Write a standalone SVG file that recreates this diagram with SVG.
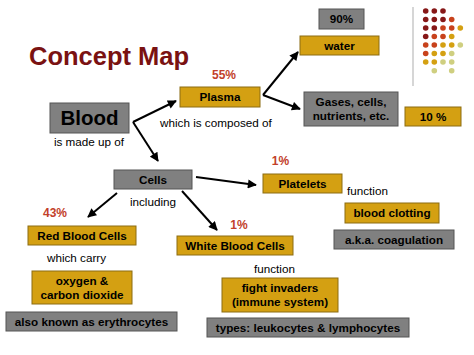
<svg xmlns="http://www.w3.org/2000/svg" width="474" height="355" viewBox="0 0 474 355">
<defs>
<marker id="ah" viewBox="0 0 10 10" refX="9" refY="5" markerWidth="5" markerHeight="4.5" orient="auto" markerUnits="strokeWidth">
<path d="M0,0 L10,5 L0,10 z" fill="#000"/>
</marker>
<style>
.g{fill:#d4a012;stroke:#8c6c12;stroke-width:1}
.k{fill:#808080;stroke:#555;stroke-width:1}
.bt{font-family:"Liberation Sans",Arial,sans-serif;font-weight:bold;font-size:11.7px;fill:#000;text-anchor:middle}
.lb{font-family:"Liberation Sans",Arial,sans-serif;font-size:11.7px;fill:#000}
.pc{font-family:"Liberation Sans",Arial,sans-serif;font-weight:bold;font-size:12px;fill:#c2402a;text-anchor:middle}
.c{stroke:#000;stroke-width:2;fill:none;stroke-linejoin:miter}
.d1{fill:#861717}.d2{fill:#c8421c}.d3{fill:#d4a012}.d4{fill:#cfcf80}
</style>
</defs>
<rect width="474" height="355" fill="#fff"/>
<text x="29" y="65" font-family="Liberation Sans,Arial,sans-serif" font-weight="bold" font-size="25.5" fill="#7a1212">Concept Map</text>
<g id="decor">
<line x1="413" y1="7" x2="413" y2="86" stroke="#bbb" stroke-width="1.2"/>
<g>
<circle class="d1" cx="425.7" cy="11" r="2.8"/><circle class="d1" cx="434.3" cy="11" r="2.8"/><circle class="d1" cx="443" cy="11" r="2.8"/>
<circle class="d1" cx="425.7" cy="19.5" r="2.8"/><circle class="d1" cx="434.3" cy="19.5" r="2.8"/><circle class="d1" cx="443" cy="19.5" r="2.8"/><circle class="d2" cx="451.7" cy="19.5" r="2.8"/>
<circle class="d1" cx="425.7" cy="28" r="2.8"/><circle class="d1" cx="434.3" cy="28" r="2.8"/><circle class="d2" cx="443" cy="28" r="2.8"/><circle class="d2" cx="451.7" cy="28" r="2.8"/><circle class="d3" cx="460.3" cy="28" r="2.8"/>
<circle class="d1" cx="425.7" cy="36.5" r="2.8"/><circle class="d2" cx="434.3" cy="36.5" r="2.8"/><circle class="d2" cx="443" cy="36.5" r="2.8"/><circle class="d3" cx="451.7" cy="36.5" r="2.8"/>
<circle class="d2" cx="425.7" cy="45" r="2.8"/><circle class="d2" cx="434.3" cy="45" r="2.8"/><circle class="d3" cx="443" cy="45" r="2.8"/><circle class="d3" cx="451.7" cy="45" r="2.8"/><circle class="d4" cx="460.3" cy="45" r="2.8"/>
<circle class="d2" cx="425.7" cy="53.5" r="2.8"/><circle class="d3" cx="434.3" cy="53.5" r="2.8"/><circle class="d3" cx="443" cy="53.5" r="2.8"/><circle class="d4" cx="451.7" cy="53.5" r="2.8"/>
<circle class="d3" cx="425.7" cy="62" r="2.8"/><circle class="d3" cx="434.3" cy="62" r="2.8"/><circle class="d4" cx="443" cy="62" r="2.8"/><circle class="d4" cx="451.7" cy="62" r="2.8"/>
<circle class="d4" cx="434.3" cy="70.7" r="2.8"/><circle class="d4" cx="451.7" cy="70.7" r="2.8"/>
</g>
</g>
<g id="connectors">
<line class="c" x1="133" y1="122" x2="176" y2="101" marker-end="url(#ah)"/>
<line class="c" x1="133" y1="122" x2="158" y2="161" marker-end="url(#ah)"/>
<line class="c" x1="263" y1="95" x2="298" y2="52" marker-end="url(#ah)"/>
<line class="c" x1="263" y1="95" x2="300" y2="109" marker-end="url(#ah)"/>
<line class="c" x1="196" y1="177" x2="256" y2="185" marker-end="url(#ah)"/>
<line class="c" x1="182" y1="191" x2="217" y2="230" marker-end="url(#ah)"/>
<line class="c" x1="117" y1="193" x2="88" y2="217" marker-end="url(#ah)"/>
</g>
<g id="blood"><rect class="k" x="50" y="103" width="79" height="30"/><text class="bt" x="89.5" y="125.3" style="font-size:20.5px">Blood</text></g>
<text id="lbl-madeup" class="lb" x="89" y="146" text-anchor="middle">is made up of</text>
<g id="plasma"><text class="pc" x="224" y="79">55%</text><rect class="g" x="180" y="87" width="80" height="20"/><text class="bt" x="220" y="101.2">Plasma</text></g>
<text id="lbl-composed" class="lb" x="160" y="127">which is composed of</text>
<g id="p90"><rect class="k" x="319" y="9" width="45" height="20"/><text class="bt" x="341.5" y="23.2">90%</text></g>
<g id="water"><rect class="g" x="300" y="36" width="79" height="19"/><text class="bt" x="339.5" y="49.7">water</text></g>
<g id="gases"><rect class="k" x="304" y="92" width="94" height="34"/><text class="bt" x="351" y="106.2">Gases, cells,</text><text class="bt" x="351" y="120.2">nutrients, etc.</text></g>
<g id="p10"><rect class="g" x="405" y="107" width="56" height="19"/><text class="bt" x="433" y="120.7">10 %</text></g>
<g id="cells"><rect class="k" x="114" y="170" width="78" height="19"/><text class="bt" x="153" y="183.7">Cells</text></g>
<text id="lbl-including" class="lb" x="153" y="206" text-anchor="middle">including</text>
<g id="platelets"><text class="pc" x="280.5" y="165">1%</text><rect class="g" x="263" y="174" width="79" height="19"/><text class="bt" x="302.5" y="187.7">Platelets</text></g>
<text id="lbl-func1" class="lb" x="347" y="195">function</text>
<g id="clotting"><rect class="g" x="345" y="203" width="94" height="20"/><text class="bt" x="392" y="217.2">blood clotting</text></g>
<g id="coag"><rect class="k" x="334" y="230" width="120" height="19"/><text class="bt" x="394" y="243.7">a.k.a. coagulation</text></g>
<g id="rbc"><text class="pc" x="55" y="217">43%</text><rect class="g" x="28" y="226" width="108" height="19"/><text class="bt" x="82" y="239.7">Red Blood Cells</text></g>
<text id="lbl-carry" class="lb" x="76.5" y="262" text-anchor="middle">which carry</text>
<g id="oxygen"><rect class="g" x="32" y="271" width="100" height="33"/><text class="bt" x="82" y="284.7">oxygen &amp;</text><text class="bt" x="82" y="298.7">carbon dioxide</text></g>
<g id="erythro"><rect class="k" x="6" y="312" width="171" height="19"/><text class="bt" x="91.5" y="325.7">also known as erythrocytes</text></g>
<g id="wbc"><text class="pc" x="239" y="229">1%</text><rect class="g" x="177" y="236" width="116" height="19"/><text class="bt" x="235" y="249.7">White Blood Cells</text></g>
<text id="lbl-func2" class="lb" x="274.5" y="273" text-anchor="middle">function</text>
<g id="fight"><rect class="g" x="222" y="278" width="116" height="34"/><text class="bt" x="280" y="292.2">fight invaders</text><text class="bt" x="280" y="306.2">(immune system)</text></g>
<g id="types"><rect class="k" x="207" y="318" width="202" height="19"/><text class="bt" x="308" y="331.7">types: leukocytes &amp; lymphocytes</text></g>
</svg>
